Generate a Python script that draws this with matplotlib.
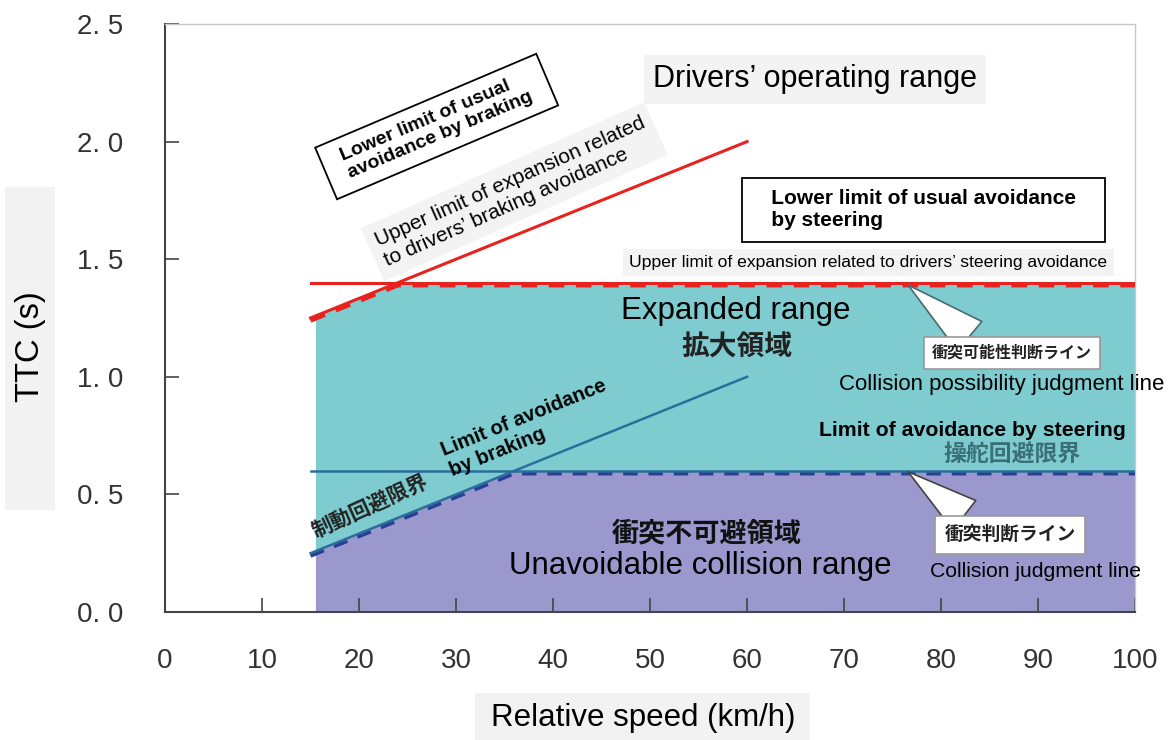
import numpy as np
import matplotlib.pyplot as plt
from matplotlib.patches import Rectangle

plt.rcParams['font.family'] = ['Liberation Sans', 'Noto Sans CJK JP', 'DejaVu Sans']
JP = ['Noto Sans CJK JP', 'DejaVu Sans']

# braking lines (speed in km/h, TTC in s)
speed_brk = [15, 60]
ttc_brk_limit = [0.25, 1.0]     # limit of avoidance by braking
ttc_brk_usual = [1.25, 2.0]     # lower limit of usual avoidance by braking
# steering lines (constant TTC)
speed_steer = [15, 100]
ttc_steer_limit = 0.6
ttc_steer_usual = 1.4
# filled regions span
fill_start = 15.5
fill_end = 100

xticks = list(range(0, 101, 10))
yticks = [0.0, 0.5, 1.0, 1.5, 2.0, 2.5]
ytick_labels = ['0. 0', '0. 5', '1. 0', '1. 5', '2. 0', '2. 5']

TEAL = '#7ecccf'
PURPLE = '#9b98ce'
RED = '#e8231f'
BLUE = '#2a6e9c'
NAVY = '#2b3d94'

fig = plt.figure(figsize=(11.73, 7.40), dpi=100)
ax = fig.add_axes([0.1407, 0.173, 0.827, 0.7946])

# boundaries: min of braking line and steering line
knee_b = np.interp(ttc_steer_limit, ttc_brk_limit, speed_brk)
knee_r = np.interp(ttc_steer_usual, ttc_brk_usual, speed_brk)

xall = np.sort([fill_start, knee_b, knee_r, fill_end])
yb_all = np.minimum(np.interp(xall, speed_brk, ttc_brk_limit), ttc_steer_limit)
yr_all = np.minimum(np.interp(xall, speed_brk, ttc_brk_usual), ttc_steer_usual)
ax.fill_between(xall, 0, yb_all, color=PURPLE, lw=0, zorder=1)
ax.fill_between(xall, yb_all, yr_all, color=TEAL, lw=0, zorder=1)

# dashed judgment lines
xbd = np.array([speed_brk[0], knee_b, fill_end])
ybd = np.minimum(np.interp(xbd, speed_brk, ttc_brk_limit), ttc_steer_limit)
xrd = np.array([speed_brk[0], knee_r, fill_end])
yrd = np.minimum(np.interp(xrd, speed_brk, ttc_brk_usual), ttc_steer_usual)
ax.plot(xbd, ybd - 0.012, color=NAVY, lw=2.6, ls=(0, (4, 3)), zorder=3)
ax.plot(xrd, yrd - 0.012, color=RED, lw=2.8, ls=(0, (4, 3)), zorder=3)

# solid limit lines
ax.plot(speed_brk, ttc_brk_usual, color=RED, lw=2.2, zorder=4)
ax.plot(speed_steer, [ttc_steer_usual] * 2, color=RED, lw=2.2, zorder=4)
ax.plot(speed_brk, ttc_brk_limit, color=BLUE, lw=1.8, zorder=4)
ax.plot(speed_steer, [ttc_steer_limit] * 2, color=BLUE, lw=1.8, zorder=4)

ax.set_xlim(0, 100)
ax.set_ylim(0, 2.5)
ax.set_xticks(xticks)
ax.set_yticks(yticks)
ax.set_yticklabels(ytick_labels)
ax.tick_params(direction='in', length=10, width=1.2, colors='#444',
               labelsize=20, labelcolor='#333')
ax.tick_params(axis='x', pad=26)
ax.tick_params(axis='y', pad=30)
for s in ['left', 'bottom']:
    ax.spines[s].set_color('#444')
    ax.spines[s].set_linewidth(1.5)
for s in ['top', 'right']:
    ax.spines[s].set_color('#c8c8c8')
    ax.spines[s].set_linewidth(1.0)

# axis labels in light gray boxes
fig.patches.append(Rectangle((5 / 1173, 1 - 510 / 740), 50 / 1173, 323 / 740,
                             transform=fig.transFigure, fc='#f2f2f2', ec='none'))
fig.patches.append(Rectangle((475 / 1173, 0), 335 / 1173, 47 / 740,
                             transform=fig.transFigure, fc='#f2f2f2', ec='none'))
fig.text(31 / 1173, 1 - 347 / 740, 'TTC (s)', rotation=90, fontsize=23.5,
         ha='center', va='center')
fig.text(643 / 1173, 1 - 718 / 740, 'Relative speed (km/h)', fontsize=22.5,
         ha='center', va='center')

# annotations
ax.text(67.0, 2.264, 'Drivers’ operating range', fontsize=22, ha='center', va='center',
        bbox=dict(boxstyle='square,pad=0.3', fc='#f3f3f3', ec='none'), zorder=5)
ax.text(28.0, 2.064, '  Lower limit of usual  \n  avoidance by braking  ', fontsize=14,
        fontweight='bold', rotation=23, rotation_mode='anchor', ha='center', va='center',
        multialignment='left',
        bbox=dict(boxstyle='square,pad=0.5', fc='white', ec='black', lw=1.3), zorder=5)
ax.text(36.0, 1.787, 'Upper limit of expansion related\nto drivers’ braking avoidance',
        fontsize=15, rotation=24, rotation_mode='anchor', ha='center', va='center',
        multialignment='left',
        bbox=dict(boxstyle='square,pad=0.4', fc='#f3f3f3', ec='none'), zorder=5)
ax.text(60.7, 1.711, '   Lower limit of usual avoidance   \n   by steering', fontsize=15,
        fontweight='bold', ha='left', va='center', multialignment='left',
        bbox=dict(boxstyle='square,pad=0.55', fc='white', ec='black', lw=1.3), zorder=5)
ax.text(72.5, 1.485, 'Upper limit of expansion related to drivers’ steering avoidance',
        fontsize=12.6, ha='center', va='center',
        bbox=dict(boxstyle='square,pad=0.35', fc='#f3f3f3', ec='none'), zorder=5)
ax.text(58.8, 1.281, 'Expanded range', fontsize=22.5, ha='center', va='center', zorder=5)
ax.text(59.0, 1.125, '拡大領域', family=JP, fontsize=20, fontweight='bold',
        color='#222', ha='center', va='center', zorder=5)
ax.annotate('衝突可能性判断ライン', xy=(76.6, 1.39), xytext=(87.3, 1.102),
            family=JP, fontsize=11.5, fontweight='bold', color='#222',
            ha='center', va='center',
            bbox=dict(boxstyle='square,pad=0.5', fc='white', ec='#999', lw=1.2),
            arrowprops=dict(arrowstyle='wedge,tail_width=2.4,shrink_factor=0.5',
                            fc='white', ec='#4a6a70', lw=1.2, relpos=(0.3, 1.0),
                            shrinkA=0, shrinkB=0), zorder=5)
ax.text(86.2, 0.966, 'Collision possibility judgment line', fontsize=16,
        ha='center', va='center', zorder=5)
ax.text(29.0, 0.64, 'Limit of avoidance\nby braking', fontsize=14.5, fontweight='bold',
        rotation=22, rotation_mode='anchor', ha='left', va='center',
        multialignment='left', zorder=5)
ax.text(21.1, 0.451, '制動回避限界', family=JP, fontsize=15, fontweight='bold',
        color='#222', rotation=24.5, rotation_mode='anchor', ha='center', va='center',
        zorder=5)
ax.text(83.2, 0.770, 'Limit of avoidance by steering', fontsize=15.3, fontweight='bold',
        ha='center', va='center', zorder=5)
ax.text(87.3, 0.668, '操舵回避限界', family=JP, fontsize=16.5, fontweight='bold',
        color='#3a6f78', ha='center', va='center', zorder=5)
ax.annotate('衝突判断ライン', xy=(76.6, 0.596), xytext=(87.1, 0.328),
            family=JP, fontsize=13.5, fontweight='bold', color='#222',
            ha='center', va='center',
            bbox=dict(boxstyle='square,pad=0.5', fc='white', ec='#999', lw=1.2),
            arrowprops=dict(arrowstyle='wedge,tail_width=2.0,shrink_factor=0.5',
                            fc='white', ec='#444', lw=1.2, relpos=(0.25, 1.0),
                            shrinkA=0, shrinkB=0), zorder=5)
ax.text(89.7, 0.174, 'Collision judgment line', fontsize=15.2, ha='center', va='center',
        zorder=5)
ax.text(55.8, 0.336, '衝突不可避領域', family=JP, fontsize=19.5, fontweight='bold',
        color='#111', ha='center', va='center', zorder=5)
ax.text(55.2, 0.196, 'Unavoidable collision range', fontsize=22.5, ha='center',
        va='center', zorder=5)

fig.savefig('out.png', dpi=100)
